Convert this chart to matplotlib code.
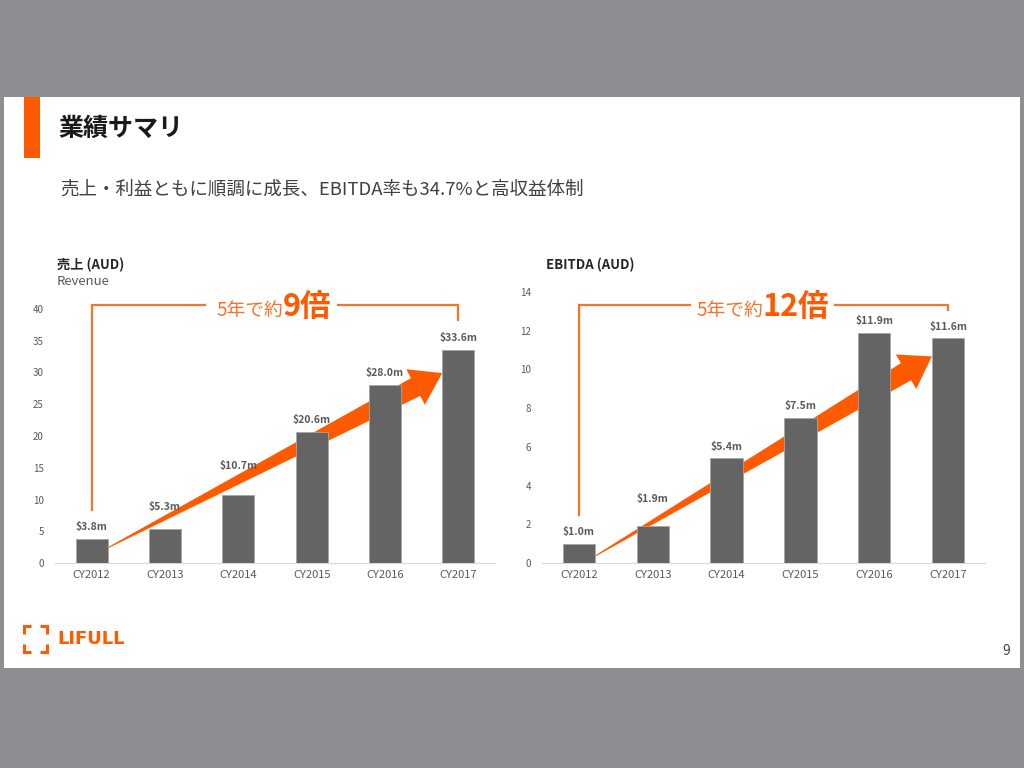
import numpy as np
import matplotlib.pyplot as plt
from matplotlib.patches import Polygon, Rectangle
from matplotlib.transforms import IdentityTransform, blended_transform_factory

plt.rcParams['font.family'] = ['Noto Sans CJK JP', 'DejaVu Sans']

# データ
years = ['CY2012', 'CY2013', 'CY2014', 'CY2015', 'CY2016', 'CY2017']
revenue = [3.8, 5.3, 10.7, 20.6, 28.0, 33.6]
ebitda = [1.0, 1.9, 5.4, 7.5, 11.9, 11.6]
revenue_ticks = [0, 5, 10, 15, 20, 25, 30, 35, 40]
ebitda_ticks = [0, 2, 4, 6, 8, 10, 12, 14]

ORANGE = '#FF5A00'
ORANGE_LT = '#F7732A'
BAR = '#646464'
TXT = '#595959'

W, H = 1024, 768
fig = plt.figure(figsize=(W / 100, H / 100), dpi=100)
fig.patch.set_facecolor('#8E8D92')


def fx(x):
    return x / W


def fy(y):
    return 1 - y / H


# スライド背景
fig.patches.append(Rectangle((fx(4), fy(668)), fx(1016), (668 - 97) / H,
                             transform=fig.transFigure, facecolor='white',
                             edgecolor='none', zorder=-2))
fig.patches.append(Rectangle((fx(24), fy(158)), fx(16), (158 - 97) / H,
                             transform=fig.transFigure, facecolor=ORANGE,
                             edgecolor='none', zorder=-1))

fig.text(fx(58), fy(129), '業績サマリ', fontsize=18, fontweight='bold',
         color='#1a1a1a', va='center')
fig.text(fx(60), fy(190), '売上・利益ともに順調に成長、EBITDA率も34.7%と高収益体制',
         fontsize=13.3, color='#404040', va='center')

fig.text(fx(57), fy(265), '売上 (AUD)', fontsize=9.5, fontweight='bold',
         color='#262626', va='center')
fig.text(fx(57), fy(281), 'Revenue', fontsize=9.5, color=TXT, va='center')
fig.text(fx(546), fy(265), 'EBITDA (AUD)', fontsize=9.5, fontweight='bold',
         color='#262626', va='center')


def draw_chart(rect, values, ticks, lifts, arrow_k, bracket, label):
    l, t, r, b = rect
    ax = fig.add_axes([fx(l), fy(b), (r - l) / W, (b - t) / H])
    ax.set_facecolor('none')
    x = np.arange(len(years))
    width = 0.44
    ax.bar(x, values, width=width, color=BAR, edgecolor='#a6a6a6',
           linewidth=0.6, zorder=3)
    ax.set_xlim(-0.5, len(years) - 0.5)
    ax.set_ylim(ticks[0], ticks[-1])
    ax.set_yticks(ticks)
    ax.set_xticks(x, years)
    for s in ['top', 'right', 'left']:
        ax.spines[s].set_visible(False)
    ax.spines['bottom'].set_color('#D9D9D9')
    ax.tick_params(length=0, labelsize=8, labelcolor=TXT)
    ax.tick_params(axis='y', pad=8, labelsize=7)
    ax.tick_params(axis='x', pad=5)

    for i, v in enumerate(values):
        ax.annotate(f'${v:.1f}m', (i, v), xytext=(0, 5 + lifts[i]),
                    textcoords='offset points', ha='center', va='bottom',
                    fontsize=7.5, fontweight='bold', color=TXT)

    # 成長矢印（棒の後ろ）
    fig.canvas.draw()
    s = ax.transData.transform((width / 2, values[0] * arrow_k[0]))
    e = ax.transData.transform((len(values) - 1 - width / 2, values[-1] * arrow_k[1]))
    u = (e - s) / np.hypot(*(e - s))
    n = np.array([-u[1], u[0]])
    head_len, head_hw, w0, w1 = 30, 20, 0.5, 10
    base = e - u * head_len
    pts = [s + n * w0, base + n * w1, base + n * head_hw, e,
           base - n * head_hw, base - n * w1, s - n * w0]
    ax.add_patch(Polygon(pts, closed=True, transform=IdentityTransform(),
                         facecolor=ORANGE, edgecolor='none', zorder=2,
                         clip_on=False))

    # ブラケット
    bt = blended_transform_factory(ax.transData, ax.transAxes)
    y_bot, y_top, y_end, gap_l, gap_r, tx, ty = bracket
    last = len(values) - 1
    ax.plot([0, 0, gap_l], [y_bot, y_top, y_top], color=ORANGE_LT, lw=1.6,
            transform=bt, clip_on=False, solid_joinstyle='miter')
    ax.plot([gap_r, last, last], [y_top, y_top, y_end], color=ORANGE_LT, lw=1.6,
            transform=bt, clip_on=False, solid_joinstyle='miter')
    ax.text(tx, ty, '5年で約', transform=bt, ha='right', va='baseline',
            fontsize=13.5, color=ORANGE_LT)
    ax.text(tx, ty, label, transform=bt, ha='left', va='baseline',
            fontsize=22, fontweight='bold', color=ORANGE)
    return ax


draw_chart((55, 309, 495, 563), revenue, revenue_ticks,
           [0, 7.5, 12.5, 0, 0, 0], (0.63, 0.89),
           (0.209, 1.016, 0.957, 1.55, 3.36, 2.61, 0.972), '9倍')
draw_chart((542, 292, 985, 563), ebitda, ebitda_ticks,
           [0, 11, 0, 0, 0, 0], (0.36, 0.92),
           (0.177, 0.952, 0.934, 1.50, 3.47, 2.49, 0.911), '12倍')

# ロゴ
logo = [[(31, 626), (24, 626), (24, 634)], [(40, 626), (47, 626), (47, 634)],
        [(24, 644), (24, 652), (31, 652)], [(47, 644), (47, 652), (40, 652)]]
for seg in logo:
    xs = [fx(p[0]) for p in seg]
    ys = [fy(p[1]) for p in seg]
    fig.add_artist(plt.Line2D(xs, ys, color=ORANGE, lw=2.2,
                              solid_joinstyle='miter', solid_capstyle='butt'))
fig.text(fx(57), fy(639), 'LIFULL', fontsize=13, fontweight='bold',
         color=ORANGE, va='center', family='DejaVu Sans')
fig.text(fx(1010), fy(651), '9', fontsize=10, color='#404040',
         ha='right', va='center')

fig.savefig('out.png', dpi=100, facecolor=fig.get_facecolor())
